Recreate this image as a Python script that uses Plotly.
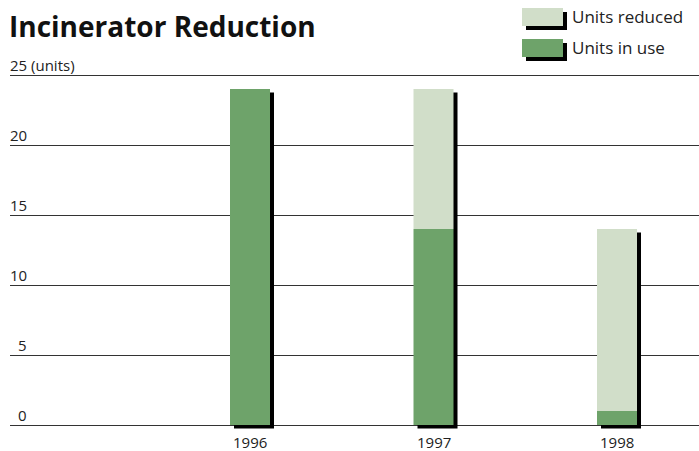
import plotly.graph_objects as go

# data
years = ["1996", "1997", "1998"]
units_in_use = [24, 14, 1]
units_reduced = [0, 10, 13]
y_ticks = [0, 5, 10, 15, 20, 25]
y_tick_text = ["0", "5", "10", "15", "20", "25 (units)"]

green = "#6ea36a"
pale = "#d1dec9"
font = "Open Sans"

W, H = 699, 451
L, R, T, B = 10, 0, 73, 19
px_x = 183.5  # pixels per category
px_y = 14.0   # pixels per unit

x = list(range(len(years)))
totals = [a + b for a, b in zip(units_in_use, units_reduced)]
bw = 40 / px_x
dx = 4 / px_x
dy = 3.5 / px_y

fig = go.Figure()

# drop shadows
fig.add_trace(go.Bar(x=x, y=totals, base=[-dy] * len(x), width=bw, offset=-bw / 2 + dx,
                     marker=dict(color="black", line=dict(width=0)), showlegend=False,
                     hoverinfo="skip"))
fig.add_trace(go.Bar(x=x, y=units_in_use, width=bw, name="Units in use",
                     marker=dict(color=green, line=dict(width=0)), showlegend=False))
fig.add_trace(go.Bar(x=x, y=units_reduced, base=units_in_use, width=bw, name="Units reduced",
                     marker=dict(color=pale, line=dict(width=0)), showlegend=False))

plot_h = H - T - B
y0 = -(H - B - 425) / px_y
y1 = y0 + plot_h / px_y
x0 = -(250 - L) / px_x
x1 = x0 + (W - L - R) / px_x

fig.update_layout(
    width=W, height=H,
    margin=dict(l=L, r=R, t=T, b=B, autoexpand=False),
    barmode="overlay",
    plot_bgcolor="white", paper_bgcolor="white",
    font=dict(family=font, size=15, color="#222"),
    xaxis=dict(range=[x0, x1], tickvals=x, showticklabels=False, showgrid=False,
               zeroline=False, showline=False, ticks="", automargin=False),
    yaxis=dict(range=[y0, y1], tickvals=y_ticks, showticklabels=False, showgrid=True,
               gridcolor="#333", gridwidth=1, zeroline=False, showline=False,
               automargin=False),
    title=dict(text="<b>Incinerator Reduction</b>", x=9 / W, xanchor="left",
               y=1 - 27 / H, yanchor="middle",
               font=dict(family=font, size=28, color="#111")),
)

# year labels under the bars
for xi, yr in zip(x, years):
    fig.add_annotation(x=xi, y=0, xref="x", yref="y", text=yr, showarrow=False,
                       xanchor="center", yanchor="top", yshift=-5, font=dict(size=15))

# y labels sitting on the gridlines
for v, t in zip(y_ticks, y_tick_text):
    if "(" in t:
        fig.add_annotation(x=0, y=v, xref="paper", yref="y", text=t, showarrow=False,
                           xanchor="left", yanchor="bottom", xshift=-2, yshift=-2,
                           font=dict(size=15))
    else:
        fig.add_annotation(x=0, y=v, xref="paper", yref="y", text=t, showarrow=False,
                           xanchor="right", yanchor="bottom", xshift=19, yshift=-2,
                           font=dict(size=15))


def px(xp, yp):
    return (xp - L) / (W - L - R), (H - B - yp) / plot_h


# legend with shadows
for name, col, top in [("Units reduced", pale, 8), ("Units in use", green, 39)]:
    for off, c in [(4, "black"), (0, col)]:
        ax0, ay0 = px(522 + off, top + off)
        ax1, ay1 = px(563 + off, top + 18 + off)
        fig.add_shape(type="rect", xref="paper", yref="paper", x0=ax0, x1=ax1,
                      y0=ay1, y1=ay0, fillcolor=c, line=dict(width=0), layer="above")
    tx, ty = px(570, top + 9)
    fig.add_annotation(x=tx, y=ty, xref="paper", yref="paper", text=name, showarrow=False,
                       xanchor="left", yanchor="middle", font=dict(size=17))

fig.write_html("out.html", config={"displayModeBar": False},
               post_script="document.body.style.margin = '0';")
